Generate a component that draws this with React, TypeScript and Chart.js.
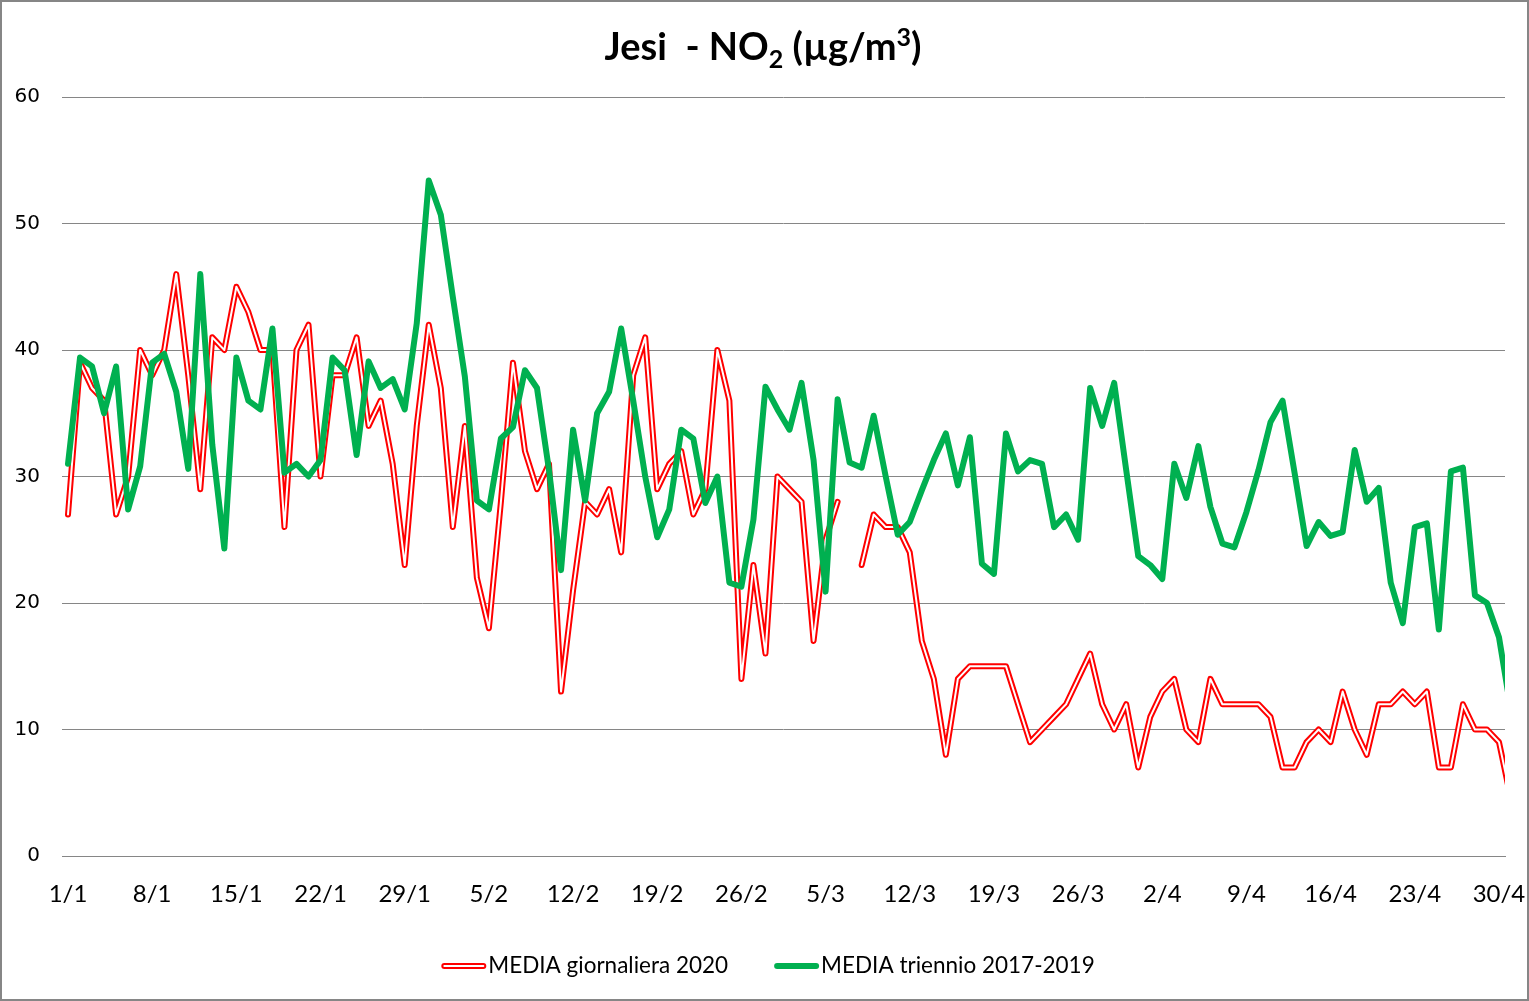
import { useEffect, useRef } from 'react';
import { Chart, registerables } from 'chart.js';

Chart.register(...registerables);

// Category axis: days 1/1 .. 30/4 (plus 1/5, clipped at the right edge)
const monthLengths = [31, 28, 31, 30, 1];
const categories: string[] = [];
monthLengths.forEach((len, m) => {
  for (let d = 1; d <= len; d++) categories.push(`${d}/${m + 1}`);
});

// Tick labels every 7 days
const tickLabels = ['1/1', '8/1', '15/1', '22/1', '29/1', '5/2', '12/2', '19/2', '26/2', '5/3', '12/3', '19/3', '26/3', '2/4', '9/4', '16/4', '23/4', '30/4'];
const tickStep = 7;

const yTicks = [0, 10, 20, 30, 40, 50, 60];

const titleMain = 'Jesi  - NO';
const titleSub = '2';
const titleMid = ' (µg/m';
const titleSup = '3';
const titleEnd = ')';

const seriesNames = ['MEDIA giornaliera 2020', 'MEDIA triennio 2017-2019'];

// MEDIA giornaliera 2020
const daily2020: (number | null)[] = [
  27, 39, 37, 36, 27, 30, 40, 38, 40, 46,
  38, 29, 41, 40, 45, 43, 40, 40, 26, 40,
  42, 30, 38, 38, 41, 34, 36, 31, 23, 34,
  42, 37, 26, 34, 22, 18, 28, 39, 32, 29,
  31, 13, 21, 28, 27, 29, 24, 38, 41, 29,
  31, 32, 27, 29, 40, 36, 14, 23, 16, 30,
  29, 28, 17, 25, 28, null, 23, 27, 26, 26,
  24, 17, 14, 8, 14, 15, 15, 15, 15, 12,
  9, 10, 11, 12, 14, 16, 12, 10, 12, 7,
  11, 13, 14, 10, 9, 14, 12, 12, 12, 12,
  11, 7, 7, 9, 10, 9, 13, 10, 8, 12,
  12, 13, 12, 13, 7, 7, 12, 10, 10, 9,
  4.5,
];

// MEDIA triennio 2017-2019
const triennio: number[] = [
  31, 39.4, 38.7, 35, 38.7, 27.4, 30.8, 39, 39.7, 36.7,
  30.6, 46, 32.5, 24.3, 39.4, 36, 35.3, 41.7, 30.3, 31,
  30, 31.3, 39.4, 38.4, 31.7, 39.1, 37, 37.7, 35.3, 42.1,
  53.4, 50.7, 44.2, 37.9, 28.1, 27.4, 33, 33.9, 38.4, 37,
  30.5, 22.6, 33.7, 28.1, 35, 36.7, 41.7, 36, 30, 25.2,
  27.4, 33.7, 33, 27.9, 30, 21.6, 21.3, 26.6, 37.1, 35.3,
  33.7, 37.4, 31.3, 20.9, 36.1, 31.1, 30.7, 34.8, 30, 25.4,
  26.4, 28.9, 31.3, 33.4, 29.3, 33.1, 23.1, 22.3, 33.4, 30.4,
  31.3, 31, 26, 27, 25, 37, 34, 37.4, 30.5, 23.7,
  23, 21.9, 31, 28.3, 32.4, 27.6, 24.7, 24.4, 27.2, 30.5,
  34.3, 36, 30.3, 24.5, 26.4, 25.3, 25.6, 32.1, 28, 29.1,
  21.6, 18.4, 26, 26.3, 17.9, 30.4, 30.7, 20.6, 20, 17.3,
  11.5,
];

const RED = '#FF0000';
const GREEN = '#00B050';
const GRID = '#868686';
const FONT = 'Lato, "Open Sans", sans-serif';

const W = 1529;
const H = 1001;

const framePlugin = {
  id: 'frame',
  beforeDraw(chart: any) {
    const ctx = chart.ctx;
    ctx.save();
    ctx.fillStyle = '#ffffff';
    ctx.fillRect(0, 0, chart.width, chart.height);
    ctx.restore();
  },
  afterDraw(chart: any) {
    const ctx = chart.ctx;
    ctx.save();
    // border
    ctx.strokeStyle = GRID;
    ctx.lineWidth = 2;
    ctx.strokeRect(1, 1, chart.width - 2, chart.height - 2);

    // title
    const big = `bold 38px ${FONT}`;
    const small = `bold 25px ${FONT}`;
    const parts = [
      { t: titleMain, f: big, dy: 0 },
      { t: titleSub, f: small, dy: 8 },
      { t: titleMid, f: big, dy: 0 },
      { t: titleSup, f: small, dy: -14 },
      { t: titleEnd, f: big, dy: 0 },
    ];
    let total = 0;
    parts.forEach((p) => {
      ctx.font = p.f;
      total += ctx.measureText(p.t).width;
    });
    let x = 763 - total / 2;
    const baseY = 60;
    ctx.fillStyle = '#000';
    ctx.textBaseline = 'alphabetic';
    ctx.textAlign = 'left';
    parts.forEach((p) => {
      ctx.font = p.f;
      ctx.fillText(p.t, x, baseY + p.dy);
      x += ctx.measureText(p.t).width;
    });

    // legend
    const lf = `22.5px ${FONT}`;
    ctx.font = lf;
    const sample = 45;
    const sgap = 2;
    const itemGap = 46;
    const w1 = ctx.measureText(seriesNames[0]).width;
    const w2 = ctx.measureText(seriesNames[1]).width;
    const totalL = sample + sgap + w1 + itemGap + sample + sgap + w2;
    let lx = 768 - totalL / 2;
    const ly = 966;
    ctx.lineCap = 'round';
    ctx.strokeStyle = RED;
    ctx.lineWidth = 6;
    ctx.beginPath();
    ctx.moveTo(lx + 3, ly);
    ctx.lineTo(lx + sample - 3, ly);
    ctx.stroke();
    ctx.strokeStyle = '#ffffff';
    ctx.lineWidth = 2;
    ctx.beginPath();
    ctx.moveTo(lx + 3, ly);
    ctx.lineTo(lx + sample - 3, ly);
    ctx.stroke();
    ctx.fillStyle = '#000';
    ctx.textBaseline = 'middle';
    ctx.fillText(seriesNames[0], lx + sample + sgap, ly);
    lx += sample + sgap + w1 + itemGap;
    ctx.strokeStyle = GREEN;
    ctx.lineWidth = 6;
    ctx.beginPath();
    ctx.moveTo(lx + 3, ly);
    ctx.lineTo(lx + sample - 3, ly);
    ctx.stroke();
    ctx.fillText(seriesNames[1], lx + sample + sgap, ly);
    ctx.restore();
  },
};

export default function App() {
  const ref = useRef<HTMLCanvasElement | null>(null);

  useEffect(() => {
    if (!ref.current) return;
    const redPts = daily2020.map((v, i) => ({ x: i, y: v }));
    const greenPts = triennio.map((v, i) => ({ x: i, y: v }));
    const common = {
      pointRadius: 0,
      pointHoverRadius: 0,
      tension: 0,
      fill: false,
      spanGaps: false,
      clip: 0,
      borderJoinStyle: 'round' as const,
      borderCapStyle: 'round' as const,
    };
    const chart = new Chart(ref.current, {
      type: 'line',
      data: {
        datasets: [
          { ...common, label: seriesNames[1], data: greenPts, borderColor: GREEN, borderWidth: 6, order: 0 },
          { ...common, label: 'inner', data: redPts, borderColor: '#ffffff', borderWidth: 2, order: 1 },
          { ...common, label: seriesNames[0], data: redPts, borderColor: RED, borderWidth: 6, order: 2 },
        ],
      },
      options: {
        animation: false,
        responsive: false,
        events: [],
        layout: { padding: { left: 0, top: 97, right: 24, bottom: 85 } },
        plugins: {
          legend: { display: false },
          title: { display: false },
          tooltip: { enabled: false },
        },
        scales: {
          x: {
            type: 'linear',
            min: -0.5,
            max: categories.length - 1.5,
            grid: { display: false, drawTicks: false },
            border: { display: true, color: GRID, width: 1 },
            afterBuildTicks: (s: any) => {
              s.ticks = tickLabels.map((_, k) => ({ value: k * tickStep }));
            },
            afterFit: (s: any) => {
              s.height = 60;
              s.paddingLeft = 0;
              s.paddingRight = 0;
            },
            ticks: {
              autoSkip: false,
              maxRotation: 0,
              minRotation: 0,
              padding: 24,
              color: '#000',
              font: { family: FONT, size: 24 },
              callback: (v: any) => categories[Math.round(Number(v))] ?? '',
            },
          },
          y: {
            min: yTicks[0],
            max: yTicks[yTicks.length - 1],
            afterBuildTicks: (s: any) => {
              s.ticks = yTicks.map((v) => ({ value: v }));
            },
            afterFit: (s: any) => {
              s.width = 62;
              s.paddingTop = 0;
              s.paddingBottom = 0;
            },
            grid: { color: GRID, lineWidth: 1, drawTicks: false },
            border: { display: false },
            ticks: {
              padding: 22,
              color: '#000',
              font: { family: '"DejaVu Sans", sans-serif', size: 20 },
            },
          },
        },
      },
      plugins: [framePlugin],
    });
    return () => chart.destroy();
  }, []);

  return (
    <div style={{ position: 'absolute', left: 0, top: 0, width: W, height: H }}>
      <canvas ref={ref} width={W} height={H} style={{ width: W, height: H, display: 'block' }} />
    </div>
  );
}
